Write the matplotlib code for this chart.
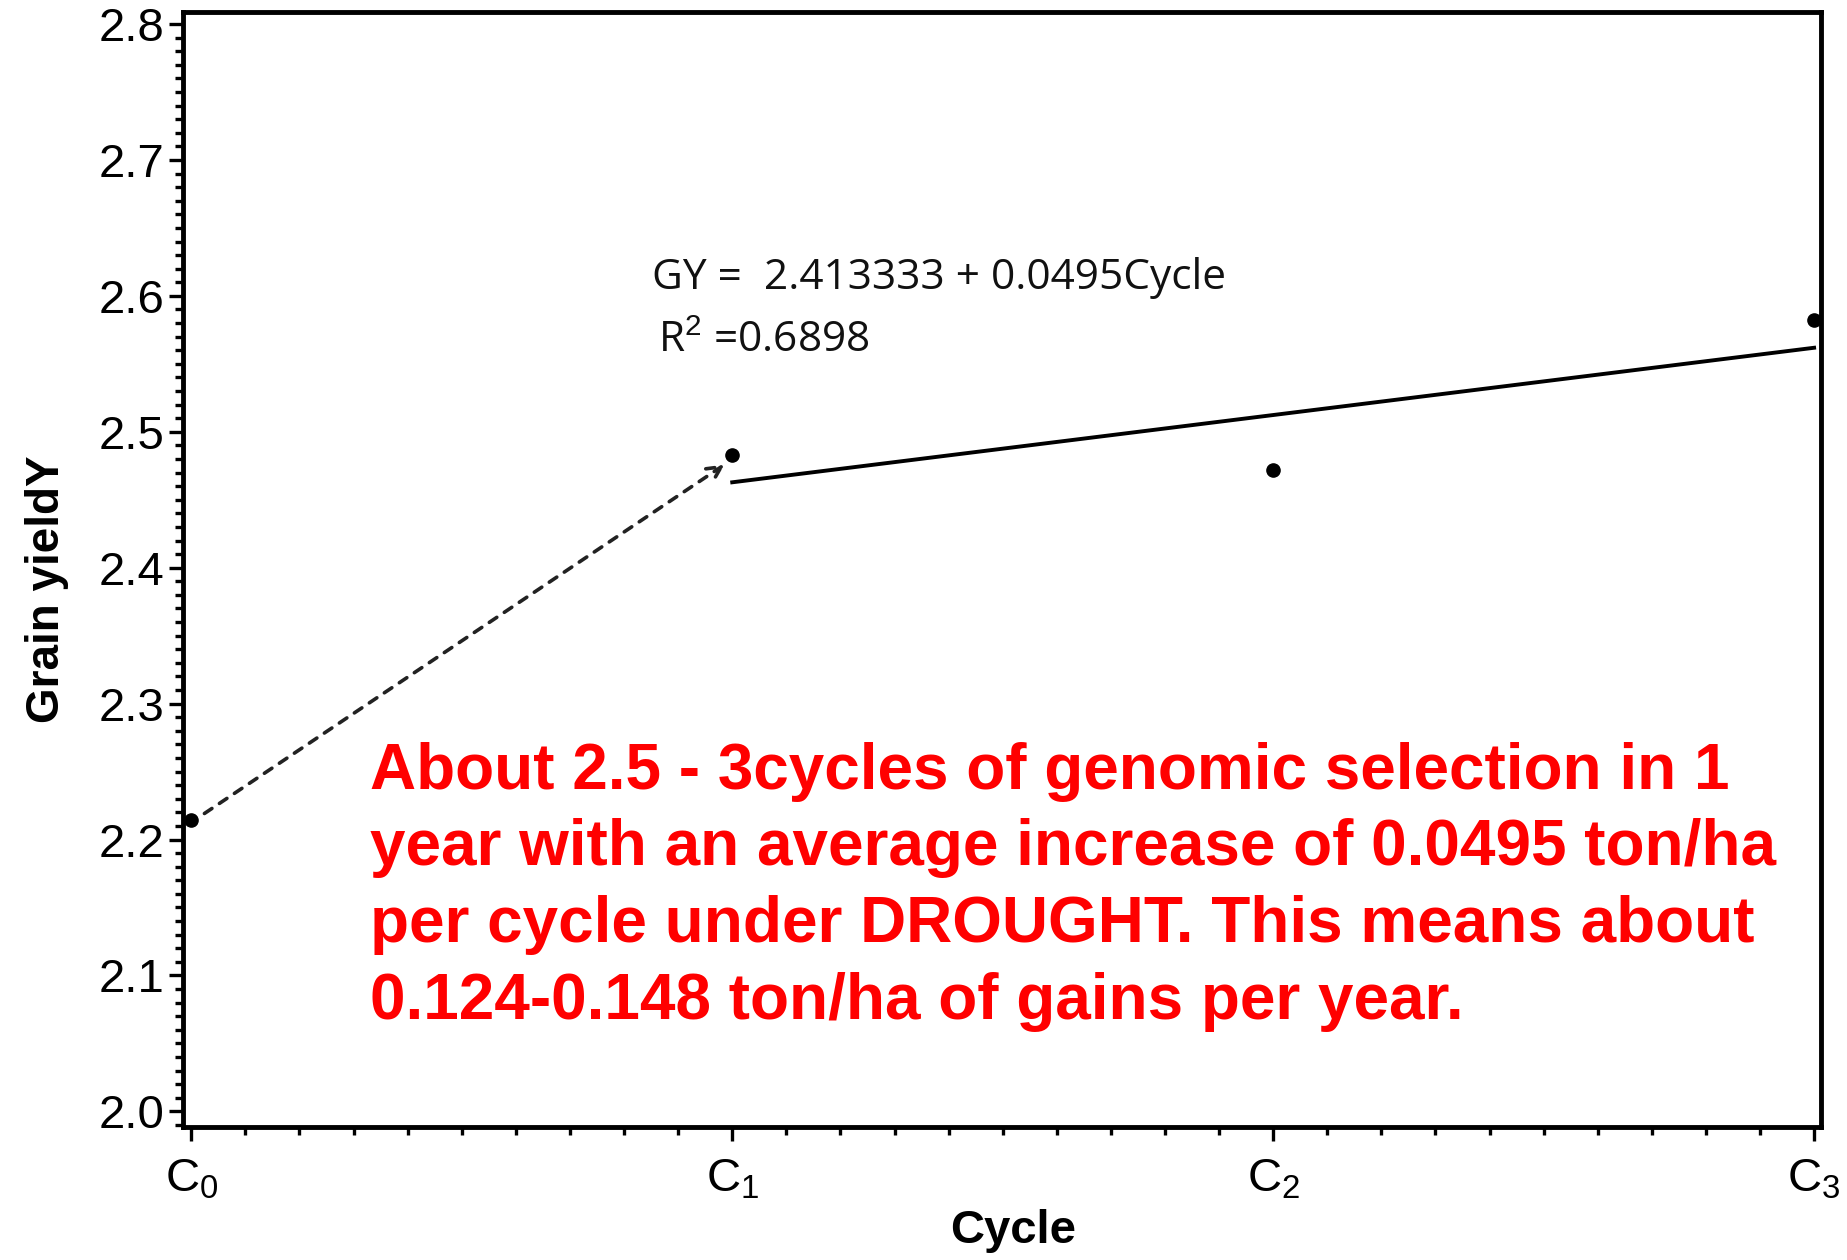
import numpy as np
import matplotlib
matplotlib.use("Agg")
import matplotlib.pyplot as plt
from matplotlib.ticker import MultipleLocator

plt.rcParams['font.family'] = ['Liberation Sans', 'DejaVu Sans']
plt.rcParams['mathtext.fontset'] = 'custom'
plt.rcParams['mathtext.rm'] = 'Liberation Sans'

# data
cycles = [0, 1, 2, 3]
cycle_labels = ['C$_\\mathrm{0}$', 'C$_\\mathrm{1}$', 'C$_\\mathrm{2}$', 'C$_\\mathrm{3}$']
grain_yield = [2.214, 2.483, 2.472, 2.582]
intercept = 2.413333
slope = 0.0495
r2 = 0.6898
fit_cycles = [1, 3]

note_lines = [
    "About 2.5 - 3cycles of genomic selection in 1",
    "year with an average increase of 0.0495 ton/ha",
    "per cycle under DROUGHT. This means about",
    "0.124-0.148 ton/ha of gains per year.",
]

fig = plt.figure(figsize=(18.47, 12.6), dpi=100)
ax = fig.add_axes([0.099, 0.1056, 0.887, 0.885])

# regression line over C1..C3
fx = np.array(fit_cycles, dtype=float)
ax.plot(fx, intercept + slope * fx, color='black', lw=2.8, zorder=2)

# points
ax.plot(cycles, grain_yield, 'o', color='black', ms=9.5, zorder=3)

# dashed arrow C0 -> C1
ax.annotate('', xy=(cycles[1] - 0.01, grain_yield[1] - 0.006),
            xytext=(cycles[0] + 0.02, grain_yield[0] + 0.004),
            arrowprops=dict(arrowstyle='->', color='#222222', lw=2.6,
                            linestyle=(0, (2.5, 2.5)), mutation_scale=25),
            zorder=2)

ax.text(0.852, 2.613, "GY =  2.413333 + 0.0495Cycle", fontsize=30.5,
        family='Open Sans', va='center', ha='left', color='#111111')
ax.text(0.862, 2.567, "R$^\\mathrm{2}$ =0.6898", fontsize=30.5,
        family='Open Sans', va='center', ha='left', color='#111111')

for i, line in enumerate(note_lines):
    ax.text(0.331, 2.250 - i * 0.0565, line, fontsize=46, fontweight='bold',
            color='#FF0000', va='center', ha='left')

ax.set_xlim(-0.0156, 3.013)
ax.set_ylim(1.9885, 2.809)
ax.set_xticks(cycles)
ax.set_xticklabels(cycle_labels)
ax.xaxis.set_minor_locator(MultipleLocator(0.1))
ax.set_yticks(np.arange(2.0, 2.81, 0.1))
ax.set_yticklabels([f"{v:.1f}" for v in np.arange(2.0, 2.81, 0.1)])
ax.yaxis.set_minor_locator(MultipleLocator(0.01))

ax.tick_params(axis='both', which='major', direction='out', length=10, width=2.4,
               labelsize=34, pad=3)
ax.tick_params(axis='both', which='minor', direction='out', length=6, width=2.4)
ax.tick_params(axis='x', which='major', pad=12)

for s in ax.spines.values():
    s.set_linewidth(3.5)

fig.text(0.5485, 0.023, 'Cycle', fontsize=34, fontweight='bold',
         ha='center', va='center')
fig.text(0.0255, 0.5325, 'Grain yieldY', fontsize=33, fontweight='bold',
         ha='center', va='center', rotation=90)

fig.savefig('out.png', dpi=100)
